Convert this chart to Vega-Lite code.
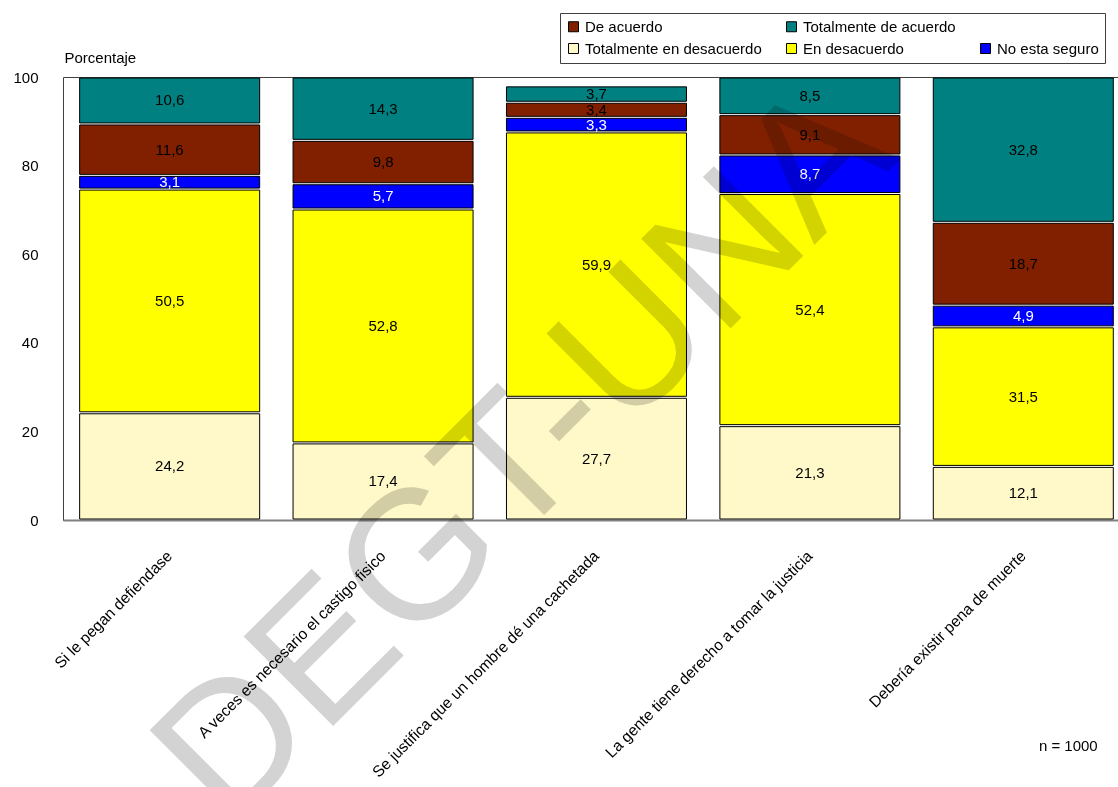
{
  "$schema": "https://vega.github.io/schema/vega-lite/v6.json",
  "autosize": {"type": "none"},
  "padding": {"left": 63, "top": 77, "right": 0, "bottom": 267},
  "width": 1055,
  "height": 443,
  "background": "white",
  "config": {
    "font": "Liberation Sans",
    "locale": {"number": {"decimal": ",", "thousands": ".", "grouping": [3], "currency": ["", ""]}},
    "view": {"stroke": "#404040", "strokeWidth": 1},
    "axis": {"labelFont": "Liberation Sans", "labelFontSize": 15, "labelColor": "#000", "grid": false, "ticks": false, "tickSize": 0}
  },
  "datasets": {
    "resp": [
      {"cat": "Si le pegan defiendase", "resp": "Totalmente en desacuerdo", "value": 24.2},
      {"cat": "Si le pegan defiendase", "resp": "En desacuerdo", "value": 50.5},
      {"cat": "Si le pegan defiendase", "resp": "No esta seguro", "value": 3.1},
      {"cat": "Si le pegan defiendase", "resp": "De acuerdo", "value": 11.6},
      {"cat": "Si le pegan defiendase", "resp": "Totalmente de acuerdo", "value": 10.6},
      {"cat": "A veces es necesario el castigo fisico", "resp": "Totalmente en desacuerdo", "value": 17.4},
      {"cat": "A veces es necesario el castigo fisico", "resp": "En desacuerdo", "value": 52.8},
      {"cat": "A veces es necesario el castigo fisico", "resp": "No esta seguro", "value": 5.7},
      {"cat": "A veces es necesario el castigo fisico", "resp": "De acuerdo", "value": 9.8},
      {"cat": "A veces es necesario el castigo fisico", "resp": "Totalmente de acuerdo", "value": 14.3},
      {"cat": "Se justifica que un hombre dé una cachetada", "resp": "Totalmente en desacuerdo", "value": 27.7},
      {"cat": "Se justifica que un hombre dé una cachetada", "resp": "En desacuerdo", "value": 59.9},
      {"cat": "Se justifica que un hombre dé una cachetada", "resp": "No esta seguro", "value": 3.3},
      {"cat": "Se justifica que un hombre dé una cachetada", "resp": "De acuerdo", "value": 3.4},
      {"cat": "Se justifica que un hombre dé una cachetada", "resp": "Totalmente de acuerdo", "value": 3.7},
      {"cat": "La gente tiene derecho a tomar la justicia", "resp": "Totalmente en desacuerdo", "value": 21.3},
      {"cat": "La gente tiene derecho a tomar la justicia", "resp": "En desacuerdo", "value": 52.4},
      {"cat": "La gente tiene derecho a tomar la justicia", "resp": "No esta seguro", "value": 8.7},
      {"cat": "La gente tiene derecho a tomar la justicia", "resp": "De acuerdo", "value": 9.1},
      {"cat": "La gente tiene derecho a tomar la justicia", "resp": "Totalmente de acuerdo", "value": 8.5},
      {"cat": "Debería existir pena de muerte", "resp": "Totalmente en desacuerdo", "value": 12.1},
      {"cat": "Debería existir pena de muerte", "resp": "En desacuerdo", "value": 31.5},
      {"cat": "Debería existir pena de muerte", "resp": "No esta seguro", "value": 4.9},
      {"cat": "Debería existir pena de muerte", "resp": "De acuerdo", "value": 18.7},
      {"cat": "Debería existir pena de muerte", "resp": "Totalmente de acuerdo", "value": 32.8}
    ],
    "wm": [{"t": "DEGT-UNA", "cat": "Se justifica que un hombre dé una cachetada", "v": 30.5}],
    "note": [{"t": "n = 1000", "cat": "Debería existir pena de muerte", "v": -51}]
  },
  "layer": [
    {
      "data": {"name": "resp"},
      "transform": [
        {"calculate": "indexof(['Totalmente en desacuerdo','En desacuerdo','No esta seguro','De acuerdo','Totalmente de acuerdo'], datum.resp)", "as": "ord"},
        {"stack": "value", "groupby": ["cat"], "sort": [{"field": "ord", "order": "ascending"}], "as": ["v0", "v1"]}
      ],
      "mark": {"type": "bar", "stroke": "#000", "strokeWidth": 1, "yOffset": 1, "y2Offset": -1},
      "encoding": {
        "x": {
          "field": "cat", "type": "nominal",
          "sort": ["Si le pegan defiendase", "A veces es necesario el castigo fisico", "Se justifica que un hombre dé una cachetada", "La gente tiene derecho a tomar la justicia", "Debería existir pena de muerte"],
          "scale": {"paddingInner": 0.1565, "paddingOuter": 0.05, "align": 0.78},
          "axis": {"title": null, "labelAngle": -45, "labelAlign": "right", "labelBaseline": "middle", "labelPadding": 33, "labelLimit": 600, "labelFontSize": 15.6, "domainColor": "#808080", "domainWidth": 2}
        },
        "y": {
          "field": "v1", "type": "quantitative",
          "scale": {"domain": [0, 100], "nice": false},
          "axis": {"values": [0, 20, 40, 60, 80, 100], "title": "Porcentaje", "titleAngle": 0, "titleX": 1, "titleY": -15, "titleAlign": "left", "titleBaseline": "alphabetic", "titleFontWeight": "normal", "titleFontSize": 15, "titleFont": "Liberation Sans", "titleColor": "#000", "labelPadding": 25, "domain": false}
        },
        "y2": {"field": "v0"},
        "color": {
          "field": "resp", "type": "nominal",
          "scale": {
            "domain": ["De acuerdo", "Totalmente en desacuerdo", "Totalmente de acuerdo", "En desacuerdo", "_blank", "No esta seguro"],
            "range": ["#802000", "#FFF8C8", "#008080", "#FFFF00", "#ffffff", "#0000FF"]
          },
          "legend": {
            "title": null, "orient": "none", "legendX": 497, "legendY": -64, "columns": 3,
            "symbolType": "square", "symbolSize": 100, "symbolStrokeColor": "#000", "symbolStrokeWidth": 1,
            "labelFontSize": 15, "labelFont": "Liberation Sans", "labelColor": "#000", "labelOffset": 4, "labelLimit": 400,
            "columnPadding": 22, "rowPadding": 6, "padding": 6, "strokeColor": "#404040",
            "labelExpr": "datum.value === '_blank' ? '' : datum.label",
            "encode": {"symbols": {"update": {"opacity": {"signal": "datum.value === '_blank' ? 0 : 1"}}}}
          }
        }
      }
    },
    {
      "data": {"name": "resp"},
      "transform": [
        {"calculate": "indexof(['Totalmente en desacuerdo','En desacuerdo','No esta seguro','De acuerdo','Totalmente de acuerdo'], datum.resp)", "as": "ord"},
        {"stack": "value", "groupby": ["cat"], "sort": [{"field": "ord", "order": "ascending"}], "as": ["v0", "v1"]},
        {"calculate": "(datum.v0 + datum.v1) / 2", "as": "mid"}
      ],
      "mark": {"type": "text", "fontSize": 15, "font": "Liberation Sans", "align": "center", "baseline": "middle"},
      "encoding": {
        "x": {"field": "cat", "type": "nominal", "sort": ["Si le pegan defiendase", "A veces es necesario el castigo fisico", "Se justifica que un hombre dé una cachetada", "La gente tiene derecho a tomar la justicia", "Debería existir pena de muerte"]},
        "y": {"field": "mid", "type": "quantitative", "scale": {"domain": [0, 100], "nice": false}},
        "text": {"field": "value", "type": "quantitative", "format": ".1f"},
        "fill": {"condition": {"test": "datum.resp === 'No esta seguro'", "value": "white"}, "value": "black"}
      }
    },
    {
      "data": {"name": "note"},
      "mark": {"type": "text", "fontSize": 15, "font": "Liberation Sans", "align": "center", "baseline": "middle", "dx": 45, "fill": "#000"},
      "encoding": {
        "x": {"field": "cat", "type": "nominal", "sort": ["Si le pegan defiendase", "A veces es necesario el castigo fisico", "Se justifica que un hombre dé una cachetada", "La gente tiene derecho a tomar la justicia", "Debería existir pena de muerte"]},
        "y": {"field": "v", "type": "quantitative", "scale": {"domain": [0, 100], "nice": false}},
        "text": {"field": "t"}
      }
    },
    {
      "data": {"name": "wm"},
      "mark": {"type": "text", "fontSize": 184, "font": "Liberation Sans", "angle": 315, "align": "center", "baseline": "middle", "dx": -100, "fill": "#d3d3d3", "blend": "multiply"},
      "encoding": {
        "x": {"field": "cat", "type": "nominal", "sort": ["Si le pegan defiendase", "A veces es necesario el castigo fisico", "Se justifica que un hombre dé una cachetada", "La gente tiene derecho a tomar la justicia", "Debería existir pena de muerte"]},
        "y": {"field": "v", "type": "quantitative", "scale": {"domain": [0, 100], "nice": false}},
        "text": {"field": "t"}
      }
    }
  ]
}
